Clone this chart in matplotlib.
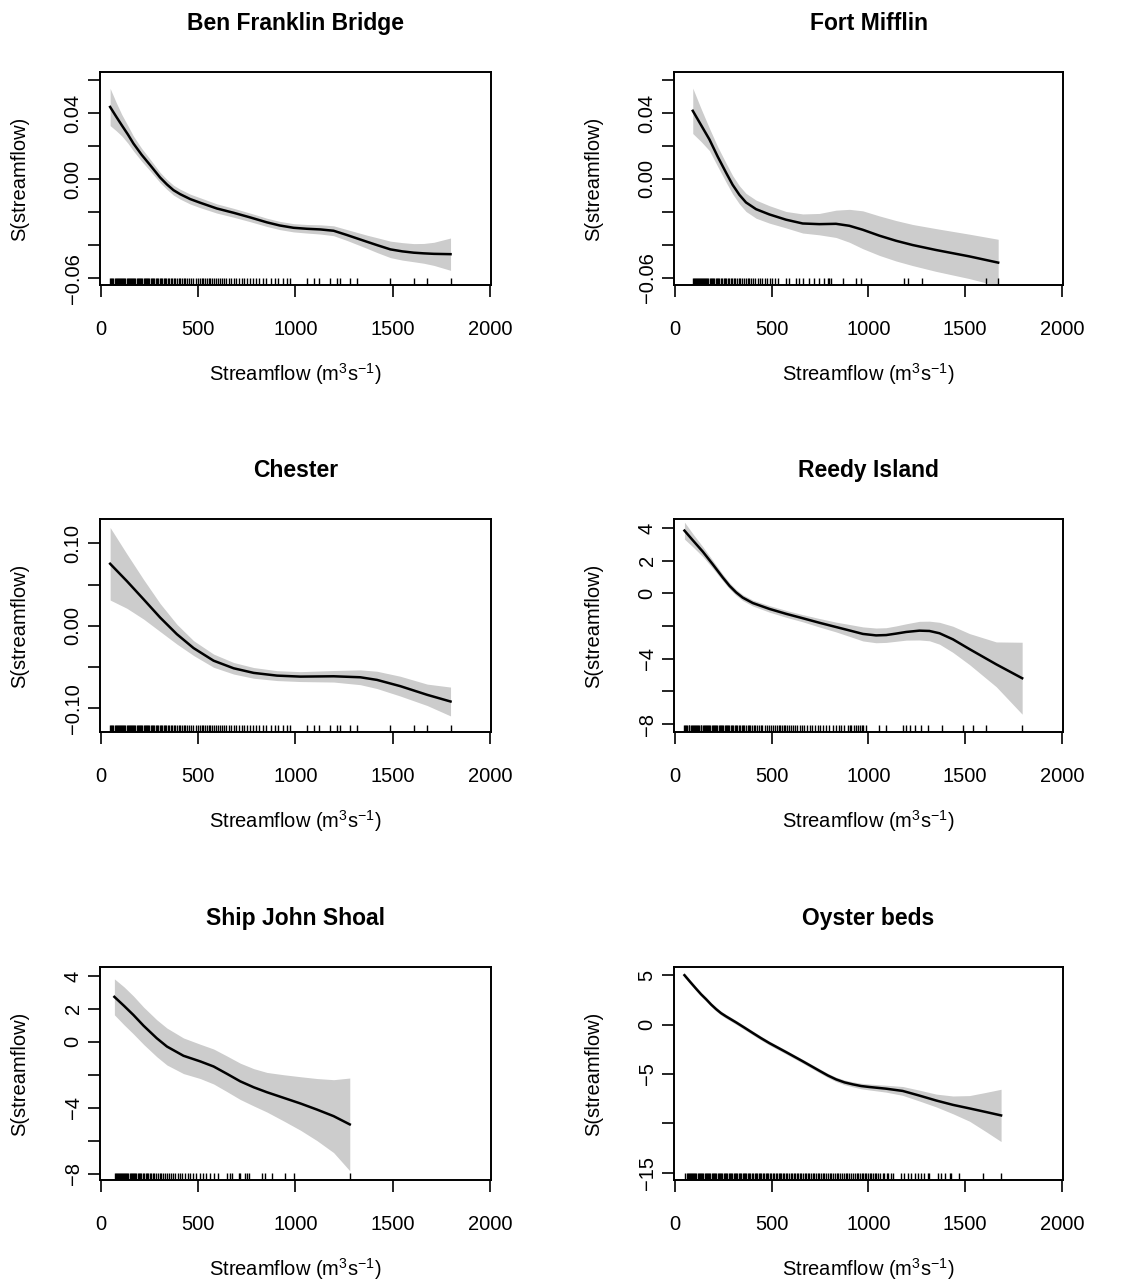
import matplotlib
matplotlib.use('Agg')
import matplotlib.pyplot as plt
import numpy as np

plt.rcParams['font.family'] = ['Liberation Sans', 'DejaVu Sans']
plt.rcParams['mathtext.fontset'] = 'custom'
plt.rcParams['mathtext.rm'] = 'Liberation Sans'
plt.rcParams['mathtext.it'] = 'Liberation Sans:italic'
plt.rcParams['mathtext.bf'] = 'Liberation Sans:bold'

titles = ['Ben Franklin Bridge', 'Fort Mifflin', 'Chester', 'Reedy Island',
          'Ship John Shoal', 'Oyster beds']

# smooth estimate and half-width of the confidence band, per site
# --- Ben Franklin Bridge
x_bfb = [48, 80, 108, 140, 168, 210, 254, 305, 340, 374, 408, 460, 511, 597, 683, 768, 854, 920, 991,
         1060, 1129, 1197, 1266, 1369, 1420, 1489, 1550, 1609, 1660, 1712, 1798]
fit_bfb = [0.0438, 0.0378, 0.0327, 0.0270, 0.0216, 0.0148, 0.0085, 0.0010, -0.0032, -0.0067,
           -0.0091, -0.0121, -0.0143, -0.0178, -0.0204, -0.0232, -0.0262, -0.0281, -0.0295, -0.0301,
           -0.0305, -0.0313, -0.0339, -0.0380, -0.0400, -0.0426, -0.0438, -0.0446, -0.0450, -0.0453,
           -0.0455]
ci_bfb = [0.0113, 0.0085, 0.0065, 0.0053, 0.0045, 0.0039, 0.0035, 0.0031, 0.0030, 0.0030,
          0.0030, 0.0030, 0.0030, 0.0028, 0.0027, 0.0026, 0.0025, 0.0025, 0.0025, 0.0026,
          0.0028, 0.0030, 0.0033, 0.0040, 0.0045, 0.0050, 0.0053, 0.0055, 0.0060, 0.0070, 0.0098]

# --- Fort Mifflin
x_fm = [93, 136, 179, 222, 265, 299, 334, 368, 420, 489, 575, 661, 747, 833, 902, 971, 1057, 1143,
        1229, 1349, 1522, 1671]
fit_fm = [0.0414, 0.0327, 0.0240, 0.0135, 0.0038, -0.0036, -0.0097, -0.0143, -0.0184, -0.0216,
          -0.0248, -0.0271, -0.0275, -0.0273, -0.0285, -0.0309, -0.0345, -0.0376, -0.0402, -0.0432,
          -0.0471, -0.0509]
ci_fm = [0.0138, 0.0100, 0.0068, 0.0060, 0.0058, 0.0056, 0.0055, 0.0055, 0.0055, 0.0053,
         0.0050, 0.0058, 0.0065, 0.0083, 0.0100, 0.0115, 0.0120, 0.0123, 0.0125, 0.0130,
         0.0135, 0.0142]

# --- Chester
x_ch = [48, 134, 220, 305, 391, 477, 580, 683, 786, 906, 1026, 1197, 1334, 1420, 1540, 1678, 1798]
fit_ch = [0.0753, 0.0543, 0.0322, 0.0101, -0.0101, -0.0270, -0.0423, -0.0515, -0.0571, -0.0604,
          -0.0616, -0.0612, -0.0624, -0.0656, -0.0732, -0.0837, -0.0918]
ci_ch = [0.044, 0.033, 0.024, 0.017, 0.012, 0.009, 0.008, 0.007, 0.0065, 0.006, 0.006, 0.007,
         0.009, 0.0105, 0.012, 0.013, 0.0175]

# --- Reedy Island
x_ri = [50, 93, 145, 196, 248, 283, 317, 351, 403, 489, 575, 661, 748, 834, 920, 972, 1040, 1092,
        1144, 1196, 1264, 1316, 1368, 1437, 1523, 1661, 1795]
fit_ri = [3.84, 3.25, 2.55, 1.78, 0.97, 0.46, 0.06, -0.26, -0.59, -0.95, -1.25, -1.52, -1.80, -2.06,
          -2.32, -2.48, -2.57, -2.55, -2.46, -2.36, -2.28, -2.30, -2.44, -2.81, -3.41, -4.34, -5.19]
ci_ri = [0.52, 0.40, 0.30, 0.24, 0.20, 0.19, 0.18, 0.18, 0.18, 0.20, 0.21, 0.22, 0.26, 0.30, 0.38,
         0.43, 0.45, 0.45, 0.47, 0.50, 0.57, 0.60, 0.67, 0.80, 0.95, 1.37, 2.20]

# --- Ship John Shoal
x_sj = [70, 120, 168, 220, 288, 340, 425, 511, 580, 648, 717, 786, 854, 940, 1026, 1111, 1197, 1280]
fit_sj = [2.73, 2.18, 1.63, 0.98, 0.22, -0.28, -0.84, -1.18, -1.49, -1.93, -2.39, -2.75, -3.05,
          -3.39, -3.73, -4.10, -4.50, -5.00]
ci_sj = [1.09, 1.15, 1.15, 1.13, 1.12, 1.12, 1.08, 1.04, 1.06, 1.08, 1.10, 1.13, 1.20, 1.40, 1.62,
         1.88, 2.21, 2.81]

# --- Oyster beds
x_ob = [50, 79, 110, 136, 162, 188, 214, 239, 265, 317, 360, 403, 446, 489, 575, 661, 748, 791, 834,
        877, 920, 963, 1006, 1092, 1178, 1264, 1351, 1437, 1523, 1609, 1686]
fit_ob = [5.02, 4.35, 3.65, 3.08, 2.58, 2.04, 1.57, 1.17, 0.84, 0.23, -0.30, -0.84, -1.37, -1.87,
          -2.78, -3.71, -4.68, -5.15, -5.55, -5.85, -6.05, -6.22, -6.32, -6.49, -6.72, -7.19, -7.69,
          -8.13, -8.49, -8.86, -9.20]
ci_ob = [0.2, 0.2, 0.2, 0.2, 0.2, 0.2, 0.2, 0.2, 0.2, 0.2, 0.2, 0.2, 0.2, 0.2, 0.2, 0.2, 0.21, 0.21,
         0.22, 0.24, 0.25, 0.28, 0.30, 0.35, 0.45, 0.55, 0.65, 0.90, 1.30, 2.00, 2.65]

# rug values (streamflow observations)
rug_upper = [48, 54, 60, 65, 71, 76, 82, 88, 93, 99, 104, 110, 116, 121, 127, 133, 138, 144, 150, 155,
             161, 167, 173, 178, 184, 190, 196, 202, 208, 214, 220, 226, 232, 238, 244, 250, 257, 263,
             269, 276, 282, 289, 295, 302, 309, 316, 323, 330, 337, 345, 352, 360, 368, 376, 384, 391,
             400, 409, 417, 426, 434, 443, 452, 466, 475, 487, 498, 509, 520, 528, 537, 545, 554, 563,
             572, 581, 591, 601, 612, 623, 634, 646, 658, 670, 683, 697, 711, 724, 738, 752, 768, 783,
             797, 815, 832, 850, 876, 894, 912, 935, 955, 974]
rug_bfb_tail = [1060, 1098, 1120, 1180, 1214, 1232, 1283, 1317, 1489, 1609, 1677, 1798]
rug_ri_extra = [860, 905, 925, 945, 965, 989]
rug_ri_tail = [1054, 1092, 1178, 1196, 1213, 1239, 1273, 1307, 1380, 1488, 1540, 1609, 1795]
rug_fm = [93, 98, 103, 108, 113, 118, 124, 129, 134, 140, 145, 151, 157, 162, 168, 174, 180, 186, 192,
          198, 205, 211, 218, 224, 231, 238, 245, 252, 259, 266, 274, 281, 289, 297, 305, 313, 322, 330,
          339, 348, 357, 366, 376, 386, 396, 406, 417, 428, 440, 452, 464, 477, 490, 503, 517, 532,
          575, 592, 627, 644, 661, 695, 721, 747, 773, 790, 799, 807, 867, 936, 962, 1186, 1203, 1277,
          1608, 1671]
rug_sj = [74, 79, 84, 89, 94, 99, 104, 109, 115, 120, 125, 131, 136, 142, 148, 153, 159, 165, 171, 177,
          183, 190, 196, 203, 209, 216, 223, 230, 237, 245, 252, 260, 268, 276, 284, 293, 302, 311, 320,
          330, 340, 350, 361, 372, 383, 395, 407, 420, 433, 447, 461, 476, 492, 508, 525, 542, 560, 580,
          605, 648, 665, 674, 708, 717, 743, 751, 760, 828, 846, 880, 948, 991, 1280]
rug_ob = [55, 61, 66, 72, 78, 83, 89, 95, 101, 106, 112, 118, 124, 130, 136, 142, 148, 154, 160, 166,
          172, 178, 184, 190, 196, 202, 208, 215, 221, 227, 233, 240, 246, 252, 259, 265, 271, 278, 284,
          291, 297, 304, 310, 317, 323, 330, 337, 343, 350, 357, 364, 370, 377, 384, 391, 398, 405, 412,
          419, 426, 433, 440, 447, 454, 462, 469, 476, 483, 491, 498, 506, 513, 521, 528, 536, 543, 551,
          559, 566, 574, 582, 590, 598, 606, 614, 622, 630, 638, 646, 654, 662, 671, 679, 687, 696, 704,
          713, 721, 730, 738, 747, 756, 764, 773, 782, 791, 800, 809, 818, 827, 836, 845, 855, 864, 873,
          883, 892, 902, 911, 921, 930, 940, 946,
          958, 966, 975, 981, 990, 998, 1007, 1015, 1024, 1033, 1041, 1050, 1062, 1075, 1083, 1095,
          1104, 1118, 1126,
          1170, 1187, 1204, 1221, 1239, 1256, 1273, 1290, 1307, 1316, 1359, 1376, 1394, 1420, 1428,
          1471, 1592, 1687]

# y axis ticks / labels per panel (R drops some labels)
yticks_small = [0.06, 0.04, 0.02, 0.0, -0.02, -0.04, -0.06]
ylabels_small = ['', '0.04', '', '0.00', '', '', '\u22120.06']
yticks_ch = [0.10, 0.05, 0.0, -0.05, -0.10]
ylabels_ch = ['0.10', '', '0.00', '', '\u22120.10']
yticks_big = [4, 2, 0, -2, -4, -6, -8]
ylabels_big = ['4', '2', '0', '', '\u22124', '', '\u22128']
yticks_ob = [5, 0, -5, -10, -15]
ylabels_ob = ['5', '0', '\u22125', '', '\u221215']
xticks = [0, 500, 1000, 1500, 2000]

panels = [
    (x_bfb, fit_bfb, ci_bfb, rug_upper + rug_bfb_tail, yticks_small, ylabels_small, (-0.0642, 0.065)),
    (x_fm, fit_fm, ci_fm, rug_fm, yticks_small, ylabels_small, (-0.0645, 0.065)),
    (x_ch, fit_ch, ci_ch, rug_upper + rug_bfb_tail, yticks_ch, ylabels_ch, (-0.1288, 0.1296)),
    (x_ri, fit_ri, ci_ri, rug_upper + rug_ri_extra + rug_ri_tail, yticks_big, ylabels_big, (-8.48, 4.55)),
    (x_sj, fit_sj, ci_sj, rug_sj, yticks_big, ylabels_big, (-8.37, 4.54)),
    (x_ob, fit_ob, ci_ob, rug_ob, yticks_ob, ylabels_ob, (-15.75, 5.85)),
]

W, H = 1134, 1283
fig = plt.figure(figsize=(W / 100, H / 100), dpi=100)

lefts = [100, 674]
widths = [391, 389]
tops = [72, 519, 967]
ph = 213

for i, (x, fit, ci, rug, yt, yl, ylim) in enumerate(panels):
    r, c = divmod(i, 2)
    ax = fig.add_axes([lefts[c] / W, 1 - (tops[r] + ph) / H, widths[c] / W, ph / H])
    fit = np.array(fit)
    ci = np.array(ci)
    ax.fill_between(x, fit - ci, fit + ci, color='#cccccc', lw=0)
    ax.plot(x, fit, color='black', lw=1.8)
    ax.vlines(rug, 0, 0.032, transform=ax.get_xaxis_transform(), color='black', lw=1.0)
    ax.set_xlim(-4, 2006)
    ax.set_ylim(*ylim)
    ax.set_xticks(xticks)
    ax.set_xticklabels([str(v) for v in xticks])
    ax.set_yticks(yt)
    ax.set_yticklabels(yl, rotation=90, va='center')
    ax.tick_params(axis='x', length=8.5, width=1.2, labelsize=14.5, pad=16.5)
    ax.tick_params(axis='y', length=8.5, width=1.2, labelsize=14.5, pad=4)
    for s in ax.spines.values():
        s.set_linewidth(1.4)
    ax.set_title(titles[i], fontsize=16.5, fontweight='bold', pad=30)
    ax.set_xlabel(r'Streamflow (m$^{3}$s$^{-1}$)', fontsize=14.5, labelpad=16)
    ax.set_ylabel('S(streamflow)', fontsize=14.5, labelpad=25)

fig.savefig('out.png', dpi=100)
